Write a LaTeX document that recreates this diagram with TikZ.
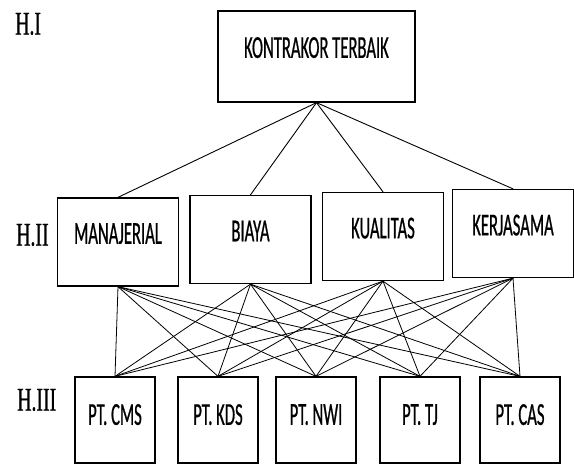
\documentclass[tikz,border=0pt]{standalone}
\usepackage{fontspec}
\setmainfont{Carlito}[FakeStretch=0.52,FakeBold=0.6]
\newfontfamily\levelfont{Liberation Serif}[FakeStretch=0.6,FakeBold=0.5]
\usetikzlibrary{positioning}

\begin{document}
\begin{tikzpicture}[x=1pt,y=-1pt,line cap=round,
    int/.style={draw, line width=1.3pt, inner sep=0pt, font=\fontsize{32}{34}\selectfont},
    goal/.style={int, minimum width=197pt, minimum height=91pt, text depth=18pt},
    crit/.style={int, minimum width=121pt, minimum height=88pt, text depth=17pt},
    alt/.style={int, minimum width=80pt, minimum height=86pt, text depth=11pt},
    lvl/.style={anchor=west, inner sep=0pt, font=\levelfont\fontsize{33}{35}\selectfont}]
    \useasboundingbox (0,0) rectangle (574,466);

    % levels
    \node [lvl] (H1) at (15,24)  {H.I};
    \node [lvl] (H2) at (16,235) {H.II};
    \node [lvl] (H3) at (17,400) {H.III};

    \node [goal] (KT) at (316.5,56.5) {KONTRAKOR TERBAIK};

    \node [crit] (MJ) at (118,242)   {MANAJERIAL};
    \node [crit] (BY) at (250.5,239.5) {BIAYA};
    \node [crit] (KL) at (383,236.5) {KUALITAS};
    \node [crit] (KS) at (513,233.5) {KERJASAMA};

    \node [alt] (CMS) at (115,420) {PT. CMS};
    \node [alt] (KDS) at (218,420) {PT. KDS};
    \node [alt] (NWI) at (316,420) {PT. NWI};
    \node [alt] (TJ)  at (420,420) {PT. TJ};
    \node [alt] (CAS) at (520,420) {PT. CAS};

    \path[line width=0.9pt] (KT.south) edge (MJ.north) edge (BY.north) edge (KL.north) edge (KS.north);

    \path[line width=0.8pt] (MJ.south) edge (CMS.north) edge (KDS.north) edge (NWI.north) edge (TJ.north) edge (CAS.north)
                            (BY.south) edge (CMS.north) edge (KDS.north) edge (NWI.north) edge (TJ.north) edge (CAS.north)
                            (KL.south) edge (CMS.north) edge (KDS.north) edge (NWI.north) edge (TJ.north) edge (CAS.north)
                            (KS.south) edge (CMS.north) edge (KDS.north) edge (NWI.north) edge (TJ.north) edge (CAS.north);
\end{tikzpicture}
\end{document}
